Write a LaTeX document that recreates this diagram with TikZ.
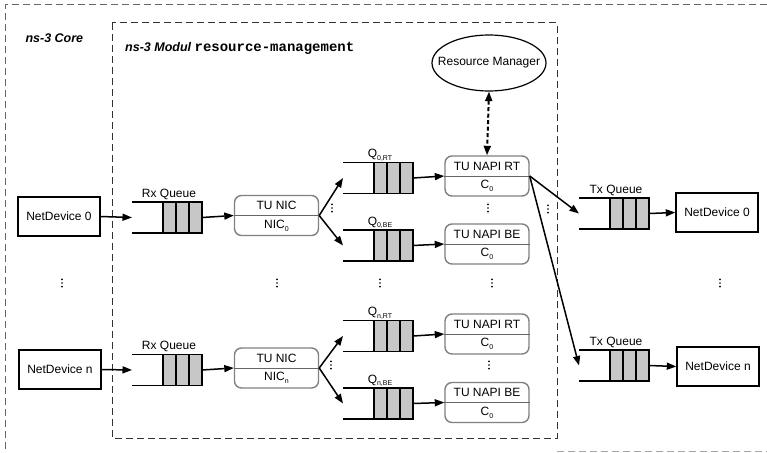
\documentclass[tikz,border=0pt]{standalone}
\usepackage{fontspec}
\setmainfont{Liberation Sans}
\setmonofont{Liberation Mono}
\usetikzlibrary{arrows.meta,shapes.geometric,calc}
\newcommand{\sbs}[1]{\raisebox{-2.8pt}{\fontsize{7}{8}\selectfont #1}}
\newcommand{\mkqueue}[4]{%
  \node[qbox] (#1) at (#2,#3) {};
  \draw[qline] (#1.north west) -- (#1.north east);
  \draw[qline] (#1.south west) -- (#1.south east);
  \foreach \i in {0,1,2} {\draw[qcell] ($(#1.north east)+(-13*\i-13,0)$) rectangle ($(#1.south east)+(-13*\i,0)$);}
  \node[anchor=base] (#1lab) at ($(#1.north)+(2,-5)$) {#4};
}
\newcommand{\mktu}[5]{%
  \node[tubox] (#1) at (#2,#3) {};
  \draw[tudiv] (#1.west) -- (#1.east);
  \node (#1a) at ($(#1.center)+(0,-10)$) {#4};
  \node (#1b) at ($(#1.center)+(0,10)$) {#5};
}
\newcommand{\dotsat}[2]{\foreach \dy in {-3.6,0,3.6} {\fill ({#1},{#2+\dy}) circle (0.95pt);}}
\tikzset{
  every node/.style={font=\fontsize{12}{14}\selectfont},
  devbox/.style={draw=black, line width=1.4pt, minimum width=82pt, minimum height=39pt, inner sep=0pt},
  tubox/.style={draw=black!50, line width=1.4pt, rounded corners=7pt, minimum width=84pt, minimum height=40pt, inner sep=0pt},
  tudiv/.style={draw=black!60, line width=1pt},
  qbox/.style={minimum width=70pt, minimum height=31pt, inner sep=0pt, outer sep=0pt},
  qline/.style={line width=1.1pt},
  qcell/.style={fill=black!22, draw=black, line width=1.1pt},
  flow/.style={line width=1.5pt, -{Triangle[length=9.5pt,width=7pt]}},
  ctrl/.style={line width=2pt, dash pattern=on 4pt off 2.5pt, {Triangle[length=9.5pt,width=7pt]}-{Triangle[length=9.5pt,width=7pt]}},
  outerdash/.style={draw=black!60, line width=1pt, dash pattern=on 7pt off 4pt},
  innerdash/.style={draw=black!80, line width=1pt, dash pattern=on 7pt off 4pt},
}
\begin{document}
\begin{tikzpicture}[x=1pt,y=-1pt]
\useasboundingbox (0,0) rectangle (767,452);
% frames
\draw[outerdash] (767,5) -- (5,5) -- (5,452);
\draw[outerdash, draw=black!35] (557,451) -- (767,451);
\draw[innerdash] (112,23) rectangle (557,438);
\node[anchor=base west, font=\fontsize{12.5}{14}\selectfont\bfseries\itshape] (core) at (22,42) {ns-3 Core};
\node[anchor=base west, font=\fontsize{12.5}{14}\selectfont\bfseries\itshape, inner sep=0pt] (modul) at (125,52) {ns-3 Modul {\upshape\fontsize{14}{14}\selectfont\ttfamily\bfseries resource-management}};
% devices
\node[devbox] (nd0L) at (59,216.5) {NetDevice 0};
\node[devbox] (ndnL) at (60,369.5) {NetDevice n};
\node[devbox] (nd0R) at (717,212.5) {NetDevice 0};
\node[devbox] (ndnR) at (718,366.5) {NetDevice n};
% queues
\mkqueue{rxq0}{167}{217.5}{Rx Queue}
\mkqueue{rxqn}{167}{370}{Rx Queue}
\mkqueue{q0rt}{378}{178}{Q\sbs{0,RT}}
\mkqueue{q0be}{378}{245.5}{Q\sbs{0,BE}}
\mkqueue{qnrt}{378}{336}{Q\sbs{n,RT}}
\mkqueue{qnbe}{378}{403.5}{Q\sbs{n,BE}}
\mkqueue{txq0}{614}{213.5}{Tx Queue}
\mkqueue{txqn}{614}{365.5}{Tx Queue}
% TU boxes
\mktu{nic0}{276.5}{215.5}{TU NIC}{NIC\sbs{0}}
\mktu{nicn}{276.5}{368}{TU NIC}{NIC\sbs{n}}
\mktu{napi0rt}{487}{176}{TU NAPI RT}{C\sbs{0}}
\mktu{napi0be}{487}{244}{TU NAPI BE}{C\sbs{0}}
\mktu{napinrt}{487}{334}{TU NAPI RT}{C\sbs{0}}
\mktu{napinbe}{487}{402.5}{TU NAPI BE}{C\sbs{0}}
% resource manager
\node[ellipse, draw=black, line width=1.2pt, minimum width=114pt, minimum height=56pt, inner sep=0pt] (rm) at (489,63) {};
\node (rmtext) at (rm.center) {Resource Manager};
% connectors
\draw[flow] (nd0L.east) -- (rxq0.west);
\draw[flow] (rxq0.east) -- (nic0.west);
\draw[flow] (nic0.east) -- (q0rt.west);
\draw[flow] (nic0.east) -- (q0be.west);
\draw[flow] (q0rt.east) -- (napi0rt.west);
\draw[flow] (q0be.east) -- (napi0be.west);
\draw[flow] (ndnL.east) -- (rxqn.west);
\draw[flow] (rxqn.east) -- (nicn.west);
\draw[flow] (nicn.east) -- (qnrt.west);
\draw[flow] (nicn.east) -- (qnbe.west);
\draw[flow] (qnrt.east) -- (napinrt.west);
\draw[flow] (qnbe.east) -- (napinbe.west);
\draw[ctrl] (rm.south) -- (napi0rt.north);
\draw[flow] (napi0rt.east) -- (txq0.west);
\draw[flow] (napi0rt.east) -- (txqn.west);
\draw[flow] (txq0.east) -- (nd0R.west);
\draw[flow] (txqn.east) -- (ndnR.west);
% ellipsis dots
\dotsat{62}{283}
\dotsat{277}{283}
\dotsat{380}{283}
\dotsat{492}{283}
\dotsat{720}{283}
\dotsat{332}{208}
\dotsat{488}{208}
\dotsat{548}{209}
\dotsat{331}{365}
\dotsat{489}{365}
\end{tikzpicture}
\end{document}
